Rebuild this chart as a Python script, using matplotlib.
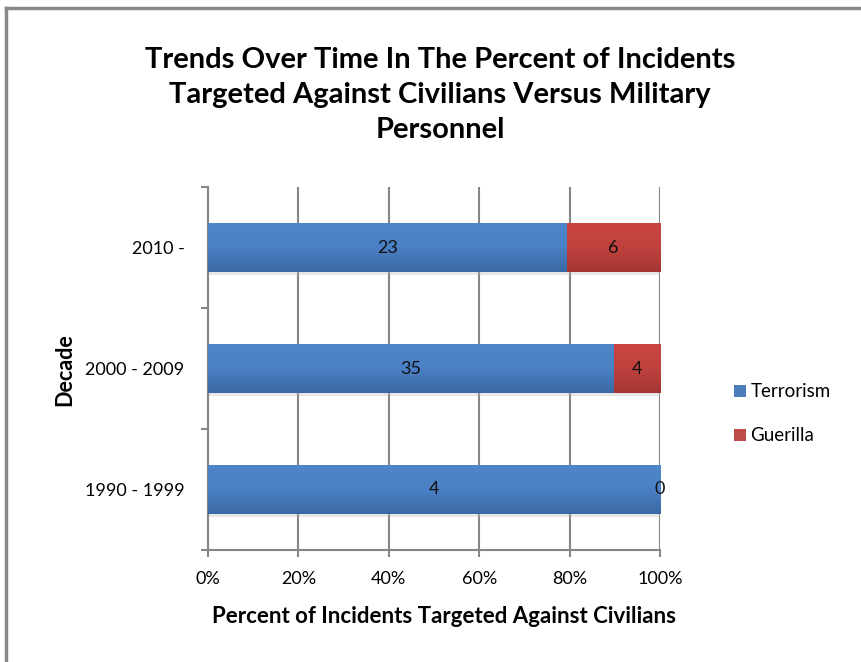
import matplotlib.pyplot as plt
import numpy as np
from matplotlib.colors import LinearSegmentedColormap

plt.rcParams['font.family'] = ['Lato', 'DejaVu Sans']

# Data: incident counts per decade
decades = ['1990 - 1999', '2000 - 2009', '2010 -']
terrorism = np.array([4, 35, 23])
guerilla = np.array([0, 4, 6])

total = terrorism + guerilla
terr_pct = terrorism / total * 100
guer_pct = guerilla / total * 100

blue_grad = LinearSegmentedColormap.from_list('b', ['#3a69a4', '#4a80c4', '#4f86c9'])
red_grad = LinearSegmentedColormap.from_list('r', ['#a33633', '#c0413e', '#c94543'])

fig = plt.figure(figsize=(8.61, 6.62), dpi=100)
ax = fig.add_axes([0.2416, 0.1692, 0.525, 0.5483])

y = np.arange(len(decades))
h = 0.4
bars_t = ax.barh(y, terr_pct, height=h, color='#4a7ebb', label='Terrorism', zorder=3)
bars_g = ax.barh(y, guer_pct, left=terr_pct, height=h, color='#be4b48', label='Guerilla', zorder=3)

# vertical gradient fill like the Excel bars
grad = np.linspace(0, 1, 100).reshape(-1, 1)
for bars, cmap in [(bars_t, blue_grad), (bars_g, red_grad)]:
    for b in bars:
        x0, y0 = b.get_x(), b.get_y()
        w, hh = b.get_width(), b.get_height()
        if w <= 0:
            continue
        im = ax.imshow(grad, cmap=cmap, aspect='auto', origin='lower',
                       extent=[x0, x0 + w, y0, y0 + hh], zorder=3.5)
        im.set_clip_path(b)
    # soft shadow under the bars
    for b in bars:
        if b.get_width() <= 0:
            continue
        ax.barh(b.get_y() + b.get_height() / 2 - 0.025, b.get_width(), left=b.get_x(),
                height=h, color='#bbbbbb', alpha=0.35, zorder=2.5)

for i in range(len(decades)):
    ax.text(terr_pct[i] / 2, y[i], str(terrorism[i]), ha='center', va='center',
            fontsize=13, color='#111111', zorder=5)
    ax.text(terr_pct[i] + guer_pct[i] / 2, y[i], str(guerilla[i]), ha='center', va='center',
            fontsize=13, color='#111111', zorder=5)

ax.set_xlim(0, 100)
ax.set_ylim(-0.5, 2.5)
ax.set_xticks(np.arange(0, 101, 20))
ax.set_xticklabels([f'{v}%' for v in range(0, 101, 20)], fontsize=13)
ax.set_yticks(y)
ax.set_yticklabels(decades, fontsize=13)
ax.set_yticks([-0.5, 0.5, 1.5, 2.5], minor=True)
ax.tick_params(axis='y', which='major', length=0, pad=17)
ax.tick_params(axis='y', which='minor', length=5, width=1.5, color='#868686', direction='out')
ax.tick_params(axis='x', length=5, width=1.5, color='#868686', direction='out', pad=10)

ax.grid(axis='x', color='#868686', linewidth=1.5, zorder=0)
ax.set_axisbelow(True)
for s in ['top', 'right']:
    ax.spines[s].set_visible(False)
for s in ['left', 'bottom']:
    ax.spines[s].set_color('#868686')
    ax.spines[s].set_linewidth(1.5)

fig.text(0.516, 0.068, 'Percent of Incidents Targeted Against Civilians', fontsize=16,
         fontweight='bold', ha='center', va='center')
fig.text(0.075, 0.441, 'Decade', fontsize=15.5, fontweight='bold', rotation=90,
         ha='center', va='center')

fig.text(0.511, 0.8565, 'Trends Over Time In The Percent of Incidents\n'
         'Targeted Against Civilians Versus Military\nPersonnel',
         ha='center', va='center', fontsize=21, fontweight='bold', linespacing=1.45)

fig.legend(handles=[bars_t, bars_g], loc='center left', bbox_to_anchor=(0.853, 0.375),
           frameon=False, fontsize=13.5, handlelength=0.6, handleheight=0.6,
           handletextpad=0.25, labelspacing=1.45, borderpad=0, borderaxespad=0)

# frame lines of the chart area (top and left only are visible)
fig.add_artist(plt.Line2D([0.007, 1.0], [0.988, 0.988], color='#888888', linewidth=2.5))
fig.add_artist(plt.Line2D([0.007, 0.007], [0.0, 0.988], color='#888888', linewidth=2.5))

fig.savefig('out.png', dpi=100)
